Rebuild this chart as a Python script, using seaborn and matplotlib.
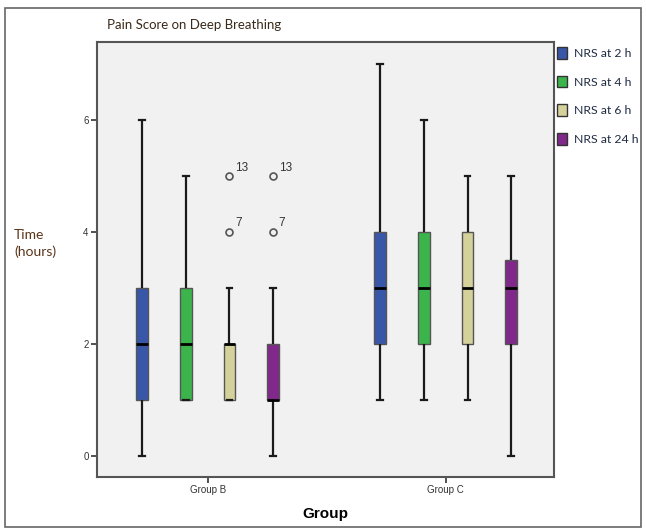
import pandas as pd
import seaborn as sns
import matplotlib.pyplot as plt
from matplotlib.patches import Rectangle

# raw scores per group / time point
groups = ["Group B", "Group C"]
times = ["NRS at 2 h", "NRS at 4 h", "NRS at 6 h", "NRS at 24 h"]
colors = ["#3957A8", "#3BB54B", "#D5D19A", "#80298A"]

b_2h = [0, 1, 1, 2, 2, 2, 3, 3, 6]
b_4h = [1, 1, 1, 2, 2, 2, 3, 4, 5]
b_6h = [1, 1, 1, 1, 2, 2, 2, 2, 2, 2, 3, 4, 5]
b_24h = [0, 1, 1, 1, 1, 1, 1, 2, 2, 2, 3, 4, 5]
c_2h = [1, 2, 2, 3, 3, 3, 4, 4, 7]
c_4h = [1, 2, 2, 3, 3, 3, 4, 5, 6]
c_6h = [1, 2, 2, 3, 3, 3, 4, 4, 5]
c_24h = [0, 2, 2, 2, 3, 3, 3, 3, 4, 4, 5]

# case numbers of the outliers in Group B
outlier_times = ["NRS at 6 h", "NRS at 6 h", "NRS at 24 h", "NRS at 24 h"]
outlier_vals = [5, 4, 5, 4]
outlier_labels = ["13", "7", "13", "7"]

series = {
    ("Group B", "NRS at 2 h"): b_2h, ("Group B", "NRS at 4 h"): b_4h,
    ("Group B", "NRS at 6 h"): b_6h, ("Group B", "NRS at 24 h"): b_24h,
    ("Group C", "NRS at 2 h"): c_2h, ("Group C", "NRS at 4 h"): c_4h,
    ("Group C", "NRS at 6 h"): c_6h, ("Group C", "NRS at 24 h"): c_24h,
}
rows = []
for (g, t), vals in series.items():
    for v in vals:
        rows.append({"Group": g, "Time": t, "Score": v})
df = pd.DataFrame(rows)

fig = plt.figure(figsize=(6.46, 5.29), dpi=100)
ax = fig.add_axes([0.150, 0.099, 0.7075, 0.821])
ax.set_facecolor("#F1F1F1")

box_width = 0.735
sns.boxplot(data=df, x="Group", y="Score", hue="Time", order=groups,
            hue_order=times, palette=colors, width=box_width, gap=0.73,
            linecolor="#1A1A1A", linewidth=1.6, saturation=1,
            medianprops=dict(color="black", linewidth=2),
            boxprops=dict(edgecolor="#555555", linewidth=1),
            flierprops=dict(marker="o", markerfacecolor="none",
                            markeredgecolor="#555555", markersize=5,
                            markeredgewidth=1.2),
            ax=ax)

# outlier case labels
slot = box_width / len(times)
for t, v, lab in zip(outlier_times, outlier_vals, outlier_labels):
    x = 0 - box_width / 2 + slot * (times.index(t) + 0.5)
    ax.annotate(lab, (x, v), xytext=(4, 4), textcoords="offset points",
                fontsize=8.5, color="#333333", family="Liberation Sans")

ax.set_xlim(-0.465, 1.455)
ax.set_ylim(-0.37, 7.39)
ax.set_yticks([0, 2, 4, 6])
ax.tick_params(axis="both", labelsize=7, length=4, width=1.2, colors="#333333",
               pad=2)
for lab in ax.get_xticklabels() + ax.get_yticklabels():
    lab.set_family("Liberation Sans")
for s in ax.spines.values():
    s.set_color("#555555")
    s.set_linewidth(1.5)

ax.set_xlabel("Group", fontsize=11, fontweight="bold", family="Liberation Sans",
              labelpad=9)
ax.set_ylabel("")
fig.text(0.022, 0.54, "Time\n(hours)", fontsize=10, color="#5A3418",
         family="Lato", va="center", ha="left", linespacing=1.45)
fig.text(0.166, 0.953, "Pain Score on Deep Breathing", fontsize=9.5,
         color="#3A2A1A", family="Lato", va="center")

handles, labels = ax.get_legend_handles_labels()
leg = ax.legend(handles, labels, loc="upper left", bbox_to_anchor=(0.996, 1.0),
                frameon=False, handlelength=0.8, handleheight=1.1,
                handletextpad=0.6, labelspacing=1.35, borderaxespad=0,
                prop={"family": "Lato", "size": 8.8})
for h in leg.legend_handles:
    h.set_edgecolor("#333333")
for txt in leg.get_texts():
    txt.set_color("#1F2A44")

fig.patches.append(Rectangle((0.008, 0.004), 0.984, 0.98, transform=fig.transFigure,
                             fill=False, edgecolor="#666666", linewidth=1.2))

fig.savefig("out.png", dpi=100, facecolor="white")
